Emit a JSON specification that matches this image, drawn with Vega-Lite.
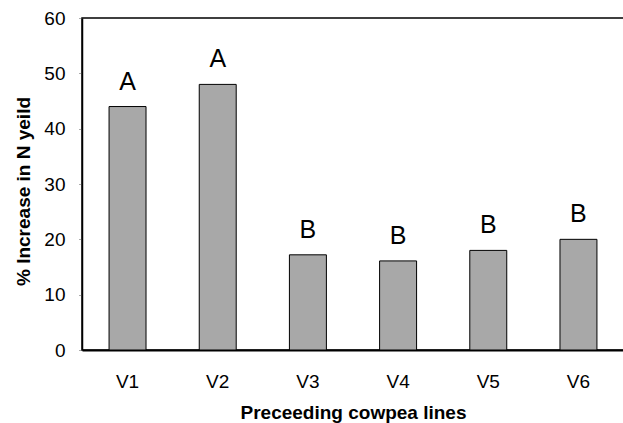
{
  "$schema": "https://vega.github.io/schema/vega-lite/v6.json",
  "autosize": "none",
  "width": 542,
  "height": 332,
  "padding": {"left": 82, "top": 18, "right": 0, "bottom": 73},
  "background": "white",
  "config": {
    "font": "Liberation Sans",
    "view": {"stroke": "black", "strokeWidth": 1.5}
  },
  "data": {
    "values": [
      {"line": "V1", "increase": 44, "group": "A"},
      {"line": "V2", "increase": 48, "group": "A"},
      {"line": "V3", "increase": 17.2, "group": "B"},
      {"line": "V4", "increase": 16.1, "group": "B"},
      {"line": "V5", "increase": 18, "group": "B"},
      {"line": "V6", "increase": 20, "group": "B"}
    ]
  },
  "encoding": {
    "x": {
      "field": "line",
      "type": "nominal",
      "sort": null,
      "scale": {"paddingInner": 0.59, "paddingOuter": 0.3},
      "axis": {
        "title": "Preceeding cowpea lines",
        "titleFontSize": 19,
        "titleFontWeight": "bold",
        "titleColor": "black",
        "titlePadding": 12,
        "labelAngle": 0,
        "labelFontSize": 19,
        "labelColor": "black",
        "labelPadding": 22,
        "ticks": false,
        "domainColor": "black",
        "domainWidth": 2
      }
    },
    "y": {
      "field": "increase",
      "type": "quantitative",
      "scale": {"domain": [0, 60]},
      "axis": {
        "title": "% Increase in N yeild",
        "titleFontSize": 19,
        "titleFontWeight": "bold",
        "titleColor": "black",
        "titlePadding": 10,
        "titleY": 173,
        "values": [0, 10, 20, 30, 40, 50, 60],
        "labelFontSize": 19,
        "labelColor": "black",
        "labelPadding": 14,
        "tickSize": 3,
        "tickColor": "#555",
        "tickDash": [1, 1],
        "grid": false,
        "domainColor": "black",
        "domainWidth": 1.5
      }
    }
  },
  "layer": [
    {
      "mark": {"type": "bar", "fill": "#a8a8a8", "stroke": "black", "strokeWidth": 1}
    },
    {
      "mark": {"type": "text", "fontSize": 25, "color": "black", "baseline": "alphabetic", "dy": -17},
      "encoding": {"text": {"field": "group"}}
    }
  ]
}
